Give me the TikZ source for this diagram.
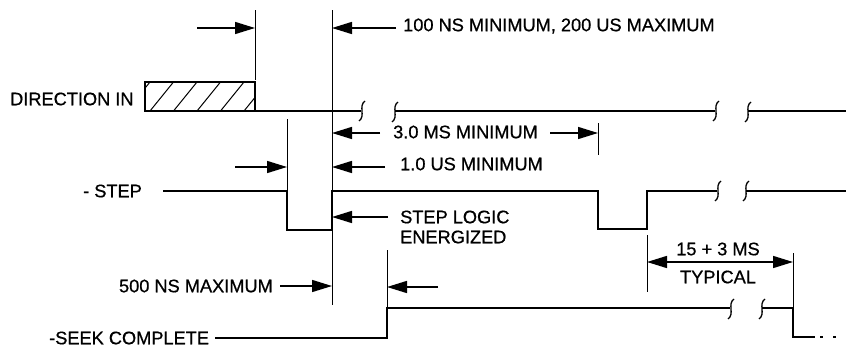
\documentclass[tikz,border=0pt]{standalone}
\usepackage{fontspec}
\setmainfont{Liberation Sans}
\newfontfamily\lblfont[FakeBold=0.7]{Liberation Sans}
\usetikzlibrary{arrows.meta}
\begin{document}
\begin{tikzpicture}[x=1pt,y=-1pt,
  sig/.style={line width=1.7pt, line join=miter},
  refl/.style={line width=0.8pt},
  dimarrow/.style={line width=1.5pt,-{Triangle[length=20pt,width=12pt]}},
  dimboth/.style={line width=1.5pt,{Triangle[length=20pt,width=12pt]}-{Triangle[length=20pt,width=12pt]}},
  brk/.style={line width=1.3pt},
  lbl/.style={font=\lblfont\fontsize{18.2}{20}\selectfont, inner sep=0pt, anchor=west}]
\useasboundingbox (0,0) rectangle (846,348);
\newcommand{\brkmark}[2]{\draw[brk] (#1+3,#2-10) .. controls (#1-4,#2-5) and (#1+4,#2+5) .. (#1-3,#2+10);}

% ---------- labels ----------
\node[lbl] (tdir) at (10,99) {DIRECTION IN};
\node[lbl] (tstep) at (83,191) {- STEP};
\node[lbl] (tseek) at (49,338) {-SEEK COMPLETE};
\node[lbl] (t100) at (403,26) {100 NS MINIMUM, 200 US MAXIMUM};
\node[lbl] (t3ms) at (393,132) {3.0 MS MINIMUM};
\node[lbl] (t1us) at (400,164) {1.0 US MINIMUM};
\node[lbl] (tlog) at (400,217) {STEP LOGIC};
\node[lbl] (tene) at (400,237) {ENERGIZED};
\node[lbl,anchor=east] (t500) at (273,286) {500 NS MAXIMUM};
\node[lbl,anchor=center] (t15) at (718,249) {15 + 3 MS};
\node[lbl,anchor=center] (ttyp) at (718,277) {TYPICAL};

% ---------- DIRECTION IN ----------
\begin{scope}
  \clip (145,82) rectangle (255,111);
  \foreach \k in {-1,...,5} {
    \draw[line width=1pt] (150+23.5*\k,111) -- (173.5+23.5*\k,82);
  }
\end{scope}
\draw[sig] (145,82) rectangle (255,111);
\draw[sig] (145,111) -- (361,111);
\brkmark{362}{111}
\brkmark{395}{112}
\draw[sig] (395,111) -- (715,111);
\brkmark{716}{111}
\brkmark{748}{112}
\draw[sig] (748,111) -- (846,111);

% ---------- STEP ----------
\draw[sig] (163,191) -- (287,191) -- (287,230) -- (332,230) -- (332,191)
  -- (598,191) -- (598,229) -- (647,229) -- (647,191) -- (717,191);
\brkmark{718}{191}
\brkmark{746}{191}
\draw[sig] (746,191) -- (846,191);

% ---------- SEEK COMPLETE ----------
\draw[sig] (215,338) -- (387,338) -- (387,308) -- (730,308);
\brkmark{731}{309}
\brkmark{762}{309}
\draw[sig] (762,308) -- (793,308) -- (793,337) -- (815,337);
\draw[sig,dash pattern=on 3pt off 10pt] (820,337) -- (846,337);

% ---------- reference lines ----------
\coordinate (a1) at (255,10); \coordinate (a2) at (255,80);
\coordinate (b1) at (332,10); \coordinate (b2) at (332,305);
\coordinate (c1) at (287,119); \coordinate (c2) at (287,191);
\coordinate (d1) at (598,123); \coordinate (d2) at (598,155);
\coordinate (e1) at (387,250); \coordinate (e2) at (387,308);
\coordinate (f1) at (647,235); \coordinate (f2) at (647,292);
\coordinate (g1) at (793,253); \coordinate (g2) at (793,308);
\foreach \p in {a,b,c,d,e,f,g} { \draw[refl] (\p1) -- (\p2); }

% ---------- dimension arrows ----------
\draw[dimarrow] (197,28) -- (255,28);
\draw[dimarrow] (396,28) -- (332,28);
\draw[dimarrow] (380,133) -- (332,133);
\draw[dimarrow] (550,133) -- (598,133);
\draw[dimarrow] (235,167) -- (287,167);
\draw[dimarrow] (385,167) -- (332,167);
\draw[dimarrow] (388,217) -- (332,217);
\draw[dimarrow] (280,286) -- (332,286);
\draw[dimarrow] (438,287) -- (387,287);
\draw[dimboth] (647,262) -- (793,262);
\end{tikzpicture}
\end{document}
